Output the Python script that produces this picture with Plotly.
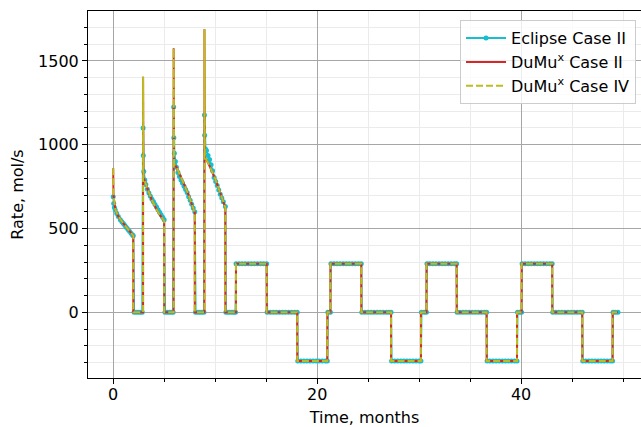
import plotly.graph_objects as go

# ---------------- data ----------------
# DuMux Case II: step-wise rate with injection spikes
dumu2_time = [0.0, 0.03, 0.2, 0.5, 1.0, 1.5, 1.97, 1.97,
              2.93, 2.93, 2.97, 3.28, 3.77, 4.42, 5.0, 5.0,
              5.93, 5.93, 5.97, 6.22, 6.71, 7.37, 8.0, 8.0,
              8.95, 8.95, 8.99, 9.33, 9.98, 10.5, 11.0, 11.0,
              12.04, 12.04, 15.05, 15.05, 18.05, 18.05, 21.0, 21.0, 21.3, 21.3,
              24.33, 24.33, 27.25, 27.25, 30.18, 30.18, 30.72, 30.72,
              33.68, 33.68, 36.62, 36.62, 39.6, 39.6, 40.05, 40.05,
              43.05, 43.05, 46.0, 46.0, 48.97, 48.97, 49.5]
dumu2_rate = [860, 700, 615, 572, 530, 490, 457, 0,
              0, 1406, 805, 752, 672, 595, 545, 0,
              0, 1575, 885, 865, 800, 705, 595, 0,
              0, 1689, 925, 889, 800, 712, 625, 0,
              0, 290, 290, 0, 0, -290, -290, 0, 0, 290,
              290, 0, 0, -290, -290, 0, 0, 290,
              290, 0, 0, -290, -290, 0, 0, 290,
              290, 0, 0, -290, -290, 0, 0]

# DuMux Case IV (visually identical to Case II)
dumu4_time = [0.0, 0.03, 0.2, 0.5, 1.0, 1.5, 1.97, 1.97,
              2.93, 2.93, 2.97, 3.28, 3.77, 4.42, 5.0, 5.0,
              5.93, 5.93, 5.97, 6.22, 6.71, 7.37, 8.0, 8.0,
              8.95, 8.95, 8.99, 9.33, 9.98, 10.5, 11.0, 11.0,
              12.04, 12.04, 15.05, 15.05, 18.05, 18.05, 21.0, 21.0, 21.3, 21.3,
              24.33, 24.33, 27.25, 27.25, 30.18, 30.18, 30.72, 30.72,
              33.68, 33.68, 36.62, 36.62, 39.6, 39.6, 40.05, 40.05,
              43.05, 43.05, 46.0, 46.0, 48.97, 48.97, 49.5]
dumu4_rate = [860, 700, 615, 572, 530, 490, 457, 0,
              0, 1406, 805, 752, 672, 595, 545, 0,
              0, 1575, 885, 865, 800, 705, 595, 0,
              0, 1689, 925, 889, 800, 712, 625, 0,
              0, 290, 290, 0, 0, -290, -290, 0, 0, 290,
              290, 0, 0, -290, -290, 0, 0, 290,
              290, 0, 0, -290, -290, 0, 0, 290,
              290, 0, 0, -290, -290, 0, 0]

# Eclipse Case II: report steps (dots)
eclipse_time = [
    0.0, 0.05, 0.12, 0.2, 0.35, 0.5, 0.7, 0.85, 1.0, 1.15, 1.3, 1.45, 1.6, 1.75, 1.9, 1.97,
    2.05, 2.25, 2.45, 2.65, 2.85,
    2.93, 2.95, 3.0, 3.1, 3.2, 3.35, 3.5, 3.65, 3.8, 3.95, 4.1, 4.25, 4.4, 4.55, 4.7, 4.85, 5.0,
    5.08, 5.3, 5.5, 5.7, 5.88,
    5.93, 5.95, 6.0, 6.1, 6.2, 6.35, 6.5, 6.65, 6.8, 6.95, 7.1, 7.25, 7.4, 7.55, 7.7, 7.85, 8.0,
    8.08, 8.3, 8.5, 8.7, 8.9,
    8.95, 8.97, 9.05, 9.15, 9.3, 9.45, 9.6, 9.75, 9.9, 10.05, 10.2, 10.35, 10.5, 10.65, 10.8, 11.0,
    11.05, 11.25, 11.45, 11.65, 11.85, 12.0,
    12.05, 12.35, 12.65, 12.95, 13.25, 13.55, 13.85, 14.15, 14.45, 14.75, 15.05,
    15.1, 15.4, 15.7, 16.0, 16.3, 16.6, 16.9, 17.2, 17.5, 17.8, 18.05,
    18.1, 18.4, 18.7, 19.0, 19.3, 19.6, 19.9, 20.2, 20.5, 20.8, 21.0,
    21.05, 21.3,
    21.35, 21.65, 21.95, 22.25, 22.55, 22.85, 23.15, 23.45, 23.75, 24.05, 24.33,
    24.38, 24.68, 24.98, 25.28, 25.58, 25.88, 26.18, 26.48, 26.78, 27.05, 27.25,
    27.3, 27.6, 27.9, 28.2, 28.5, 28.8, 29.1, 29.4, 29.7, 30.0, 30.18,
    30.23, 30.5, 30.72,
    30.77, 31.05, 31.35, 31.65, 31.95, 32.25, 32.55, 32.85, 33.15, 33.45, 33.68,
    33.73, 34.0, 34.3, 34.6, 34.9, 35.2, 35.5, 35.8, 36.1, 36.4, 36.62,
    36.67, 36.95, 37.25, 37.55, 37.85, 38.15, 38.45, 38.75, 39.05, 39.35, 39.6,
    39.65, 39.85, 40.05,
    40.1, 40.4, 40.7, 41.0, 41.3, 41.6, 41.9, 42.2, 42.5, 42.8, 43.05,
    43.1, 43.4, 43.7, 44.0, 44.3, 44.6, 44.9, 45.2, 45.5, 45.8, 46.0,
    46.05, 46.35, 46.65, 46.95, 47.25, 47.55, 47.85, 48.15, 48.45, 48.75, 48.97,
    49.02, 49.25, 49.5,
]
eclipse_rate = [
    690, 650, 625, 610, 590, 572, 553, 541, 530, 518, 506, 494, 483, 472, 462, 457,
    0, 0, 0, 0, 0,
    1100, 935, 840, 790, 762, 735, 712, 693, 675, 660, 643, 628, 612, 597, 582, 567, 552,
    0, 0, 0, 0, 0,
    1225, 1042, 949, 900, 865, 835, 810, 790, 772, 752, 733, 715, 690, 668, 645, 622, 600,
    0, 0, 0, 0, 0,
    1177, 1056, 975, 965, 935, 912, 880, 845, 805, 780, 756, 730, 705, 682, 660, 632,
    0, 0, 0, 0, 0, 0,
    290, 290, 290, 290, 290, 290, 290, 290, 290, 290, 290,
    0, 0, 0, 0, 0, 0, 0, 0, 0, 0, 0,
    -290, -290, -290, -290, -290, -290, -290, -290, -290, -290, -290,
    0, 0,
    290, 290, 290, 290, 290, 290, 290, 290, 290, 290, 290,
    0, 0, 0, 0, 0, 0, 0, 0, 0, 0, 0,
    -290, -290, -290, -290, -290, -290, -290, -290, -290, -290, -290,
    0, 0, 0,
    290, 290, 290, 290, 290, 290, 290, 290, 290, 290, 290,
    0, 0, 0, 0, 0, 0, 0, 0, 0, 0, 0,
    -290, -290, -290, -290, -290, -290, -290, -290, -290, -290, -290,
    0, 0, 0,
    290, 290, 290, 290, 290, 290, 290, 290, 290, 290, 290,
    0, 0, 0, 0, 0, 0, 0, 0, 0, 0, 0,
    -290, -290, -290, -290, -290, -290, -290, -290, -290, -290, -290,
    0, 0, 0,
]

x_ticks = [0, 20, 40]
y_ticks = [0, 500, 1000, 1500]

# ---------------- figure ----------------
FONT = "DejaVu Sans"
FS = 16
fig = go.Figure()
fig.add_trace(go.Scatter(
    x=eclipse_time, y=eclipse_rate, mode="lines+markers", name="Eclipse Case II",
    line=dict(color="#17becf", width=2), marker=dict(color="#17becf", size=5)))
fig.add_trace(go.Scatter(
    x=dumu2_time, y=dumu2_rate, mode="lines", name="DuMu<sup>x</sup> Case II",
    line=dict(color="#d62728", width=2)))
fig.add_trace(go.Scatter(
    x=dumu4_time, y=dumu4_rate, mode="lines", name="DuMu<sup>x</sup> Case IV",
    line=dict(color="#bcbd22", width=2, dash="7px,3px")))

axis_common = dict(
    showline=True, linecolor="black", linewidth=1,
    ticks="outside", ticklen=5, tickwidth=1, tickcolor="black",
    showgrid=True, gridcolor="#a6a6a6", gridwidth=1.3,
    zeroline=False,
    tickfont=dict(family=FONT, size=FS, color="black"),
)
fig.update_xaxes(
    **axis_common, range=[-2.47, 51.76], tickvals=x_ticks, mirror=True,
    ticklabelstandoff=-3,
    minor=dict(tick0=0, dtick=5, ticks="outside", ticklen=3, tickcolor="black",
               showgrid=True, gridcolor="#ebebeb", gridwidth=1),
    title=dict(text="Time, months", font=dict(family=FONT, size=FS, color="black"), standoff=10),
)
fig.update_yaxes(
    **axis_common, range=[-392, 1798], tickvals=y_ticks,
    minor=dict(tick0=0, dtick=100, ticks="outside", ticklen=3, tickcolor="black",
               showgrid=True, gridcolor="#ebebeb", gridwidth=1),
    title=dict(text="Rate, mol/s", font=dict(family=FONT, size=FS, color="black"), standoff=10),
)
fig.update_layout(
    width=641, height=427,
    margin=dict(l=88, r=0, t=11, b=49, autoexpand=False),
    paper_bgcolor="white", plot_bgcolor="white",
    font=dict(family=FONT, size=FS, color="black"),
    legend=dict(x=0.991, y=0.975, xanchor="right", yanchor="top",
                bgcolor="rgba(255,255,255,0.8)", bordercolor="#cccccc", borderwidth=1,
                font=dict(family=FONT, size=FS, color="black"), itemwidth=40),
    showlegend=True,
)
fig.write_html("out.html")
